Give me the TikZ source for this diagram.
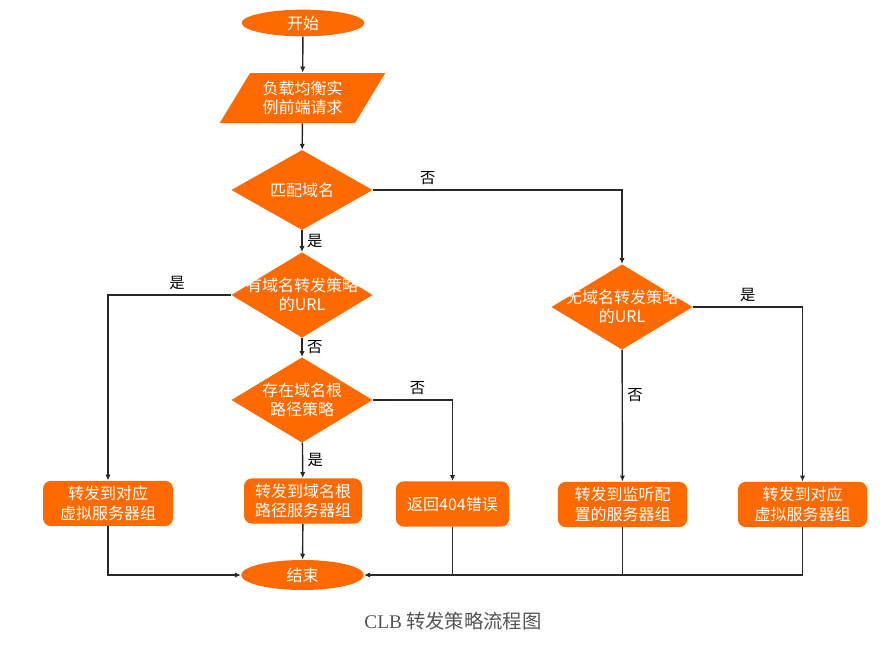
\documentclass[tikz,border=0pt]{standalone}
\usepackage{fontspec}
\newfontfamily\cjk{Noto Sans CJK SC}
\newfontfamily\capserif{Liberation Serif}
\usetikzlibrary{shapes.geometric,arrows.meta}
\definecolor{clborange}{RGB}{255,106,0}
\definecolor{linegray}{RGB}{40,40,40}
\definecolor{capgray}{RGB}{85,85,85}
\begin{document}
\begin{tikzpicture}[x=0.75pt, y=-0.75pt,
        terminal/.style={ellipse, fill=clborange, text=white, inner sep=0pt, minimum width=92pt, font=\cjk\fontsize{12}{14.5}\selectfont},
        inputbox/.style={trapezium, trapezium left angle=56, trapezium right angle=124, trapezium stretches=true, fill=clborange, text=white, align=center, inner sep=0pt, minimum width=125pt, minimum height=37.5pt, font=\cjk\fontsize{12}{14.5}\selectfont},
        decision/.style={diamond, fill=clborange, inner sep=0pt, minimum width=106pt, minimum height=64pt},
        dtext/.style={text=white, align=center, inner sep=0pt, font=\cjk\fontsize{12}{14.5}\selectfont},
        process/.style={rectangle, rounded corners=6pt, fill=clborange, text=white, align=center, inner sep=0pt, minimum height=34pt, font=\cjk\fontsize{12}{14.5}\selectfont},
        yesno/.style={font=\cjk\fontsize{11.5}{13}\selectfont, text=black},
        arrow/.style={draw=linegray, line width=1.05pt, -{Latex[length=4.5pt,width=4pt]}},
        joinline/.style={draw=linegray, line width=1.05pt}
    ]
    \useasboundingbox (0,0) rectangle (885,646);

    % main column
    \node[terminal, minimum height=20pt] (start) at (303,23) {开始};
    \node[inputbox] (request) at (302.5,98) {负载均衡实\\例前端请求};
    \node[decision, minimum height=60pt, label={[dtext]center:匹配域名}] (matchdomain) at (302,190) {};
    \node[decision, label={[dtext]center:{有域名转发策略\\的URL}}] (hasurl) at (302,295) {};
    \node[decision, label={[dtext]center:{存在域名根\\路径策略}}] (rootpolicy) at (302,400) {};
    \node[decision, label={[dtext]center:{无域名转发策略\\的URL}}] (nourl) at (622,307) {};

    % target boxes
    \node[process, minimum width=97.5pt] (vgroupleft) at (108,503.5) {转发到对应\\虚拟服务器组};
    \node[process, minimum width=88.5pt] (rootgroup) at (303,501) {转发到域名根\\路径服务器组};
    \node[process, minimum width=85pt] (notfound) at (452.5,504) {返回404错误};
    \node[process, minimum width=97pt] (listengroup) at (622.5,504.5) {转发到监听配\\置的服务器组};
    \node[process, minimum width=97pt] (vgroupright) at (802.5,504.5) {转发到对应\\虚拟服务器组};

    \node[terminal, minimum height=22.5pt] (finish) at (302.5,575) {结束};
    \node[font=\cjk\fontsize{14.5}{17}\selectfont, text=capgray] (caption) at (453,621) {{\capserif CLB} 转发策略流程图};

    % connectors
    \draw[arrow] (start) -- (request);
    \draw[arrow] (request) -- (matchdomain);
    \draw[arrow] (matchdomain) -- node[yesno, right] {是} (hasurl);
    \draw[arrow] (matchdomain.east) -| node[yesno, above, pos=0.11] {否} (nourl.north);
    \draw[arrow] (hasurl.west) -| node[yesno, above, pos=0.22] {是} (vgroupleft.north);
    \draw[arrow] (hasurl) -- node[yesno, right] {否} (rootpolicy);
    \draw[arrow] (rootpolicy.east) -| node[yesno, above, pos=0.28] {否} (notfound.north);
    \draw[arrow] (rootpolicy) -- node[yesno, right] {是} (rootgroup);
    \draw[arrow] (nourl.east) -| node[yesno, above, pos=0.25] {是} (vgroupright.north);
    \draw[arrow] (nourl) -- node[yesno, right, pos=0.34] {否} (listengroup);

    \draw[arrow] (rootgroup) -- (finish);
    \draw[arrow] (vgroupleft.south) |- (finish.west);
    \draw[arrow] (vgroupright.south) |- (finish.east);
    \draw[joinline] (listengroup.south) -- (listengroup.south |- finish.east);
    \draw[joinline] (notfound.south) -- (notfound.south |- finish.east);
\end{tikzpicture}
\end{document}
